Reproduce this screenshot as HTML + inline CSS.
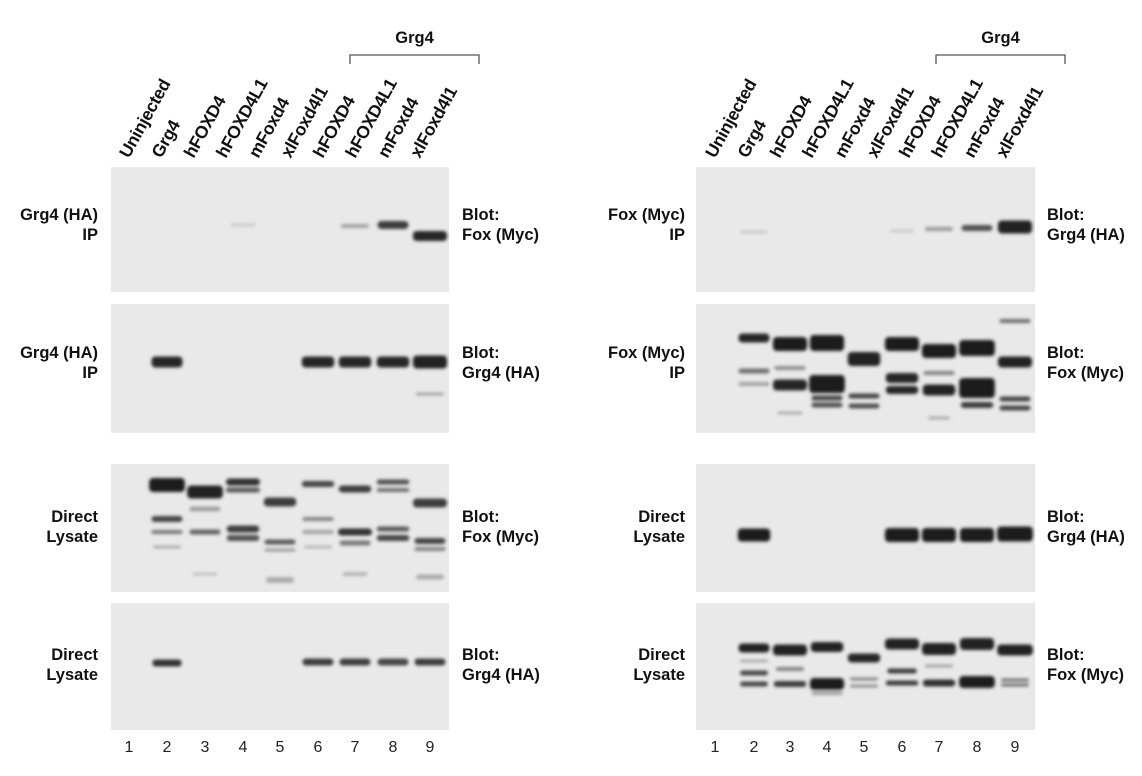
<!DOCTYPE html>
<html><head><meta charset="utf-8"><style>
body{margin:0;background:#fff;}
svg{display:block;font-family:"Liberation Sans",Arial,sans-serif;}
.b{font-weight:bold;font-size:16.5px;fill:#111;}
.h{font-weight:bold;font-size:17.5px;fill:#111;letter-spacing:-0.3px;}
.n{font-size:16px;fill:#222;}
</style></head><body>
<svg id="fig" width="1142" height="776" viewBox="0 0 1142 776">
<defs>
<filter id="blur" x="-20%" y="-100%" width="140%" height="300%"><feGaussianBlur stdDeviation="1.5"/></filter>
</defs>
<g id="root"></g>
</svg>
<script>
// lane labels
const laneNames = ["Uninjected","Grg4","hFOXD4","hFOXD4L1","mFoxd4","xlFoxd4l1","hFOXD4","hFOXD4L1","mFoxd4","xlFoxd4l1"];
const laneNumbers = ["1","2","3","4","5","6","7","8","9"];
const leftLaneX = [129,167,205,243,280,318,355,393,430];
const rightLaneX = [715,754,790,827,864,902,939,977,1015];
// band data: [lane, yOffsetFromPanelTop, thickness, intensity(0-1), widthScale]
const L1 = [[4,58,3,0.15,0.8],[7,59,4,0.35,0.9],[8,58,8,0.85,1],[9,69,10,0.95,1.1]];
const L2 = [[2,58,11,0.95,1],[6,58,11,0.95,1.05],[7,58,11,0.95,1.05],[8,58,11,0.95,1.05],[9,58,13,0.97,1.1],[9,90,3,0.35,0.9]];
const L3 = [[2,21,14,1,1.15],[2,55,6,0.8,1],[2,68,4,0.55,1],[2,83,3,0.3,0.9],
 [3,28,13,0.97,1.15],[3,45,5,0.35,1],[3,68,5,0.65,1],[3,110,3,0.2,0.8],
 [4,18,7,0.9,1.1],[4,26,5,0.7,1.1],[4,65,7,0.85,1.05],[4,74,6,0.75,1.05],
 [5,38,9,0.85,1.05],[5,78,5,0.7,1],[5,86,3,0.4,1],[5,116,6,0.3,0.9],
 [6,20,6,0.8,1.05],[6,55,4,0.5,1],[6,68,4,0.35,1],[6,83,3,0.25,0.9],
 [7,25,7,0.85,1.05],[7,68,7,0.9,1.1],[7,79,5,0.55,1],[7,110,4,0.25,0.8],
 [8,18,5,0.75,1.05],[8,26,4,0.6,1.05],[8,65,5,0.7,1.05],[8,74,6,0.8,1.05],
 [9,39,9,0.85,1.1],[9,77,6,0.8,1],[9,85,4,0.5,1],[9,113,5,0.3,0.9]];
const L4 = [[2,60,7,0.9,0.95],[6,59,7,0.85,1],[7,59,7,0.85,1],[8,59,7,0.8,1],[9,59,7,0.85,1]];
const R1 = [[2,65,3,0.15,0.9],[6,64,3,0.15,0.8],[7,62,4,0.4,0.9],[8,61,6,0.75,1],[9,60,13,0.97,1.1]];
const R2 = [[2,34,9,0.95,1],[2,67,5,0.6,1],[2,80,4,0.35,1],
 [3,40,14,1,1.1],[3,64,4,0.45,1],[3,81,11,0.95,1.1],[3,109,3,0.3,0.8],
 [4,39,16,1,1.1],[4,80,18,1,1.15],[4,94,5,0.8,1],[4,101,5,0.75,1],
 [5,55,14,0.97,1.05],[5,92,5,0.8,1],[5,102,5,0.75,1],
 [6,40,14,1,1.1],[6,74,10,0.95,1.05],[6,86,8,0.95,1.05],
 [7,47,14,1,1.1],[7,69,4,0.5,1],[7,86,11,0.97,1.05],[7,114,3,0.3,0.7],
 [8,44,16,1,1.15],[8,84,20,1,1.15],[8,101,6,0.85,1.05],
 [9,17,4,0.6,1],[9,58,11,0.97,1.1],[9,95,5,0.8,1],[9,104,5,0.8,1]];
const R3 = [[2,71,13,1,1.05],[6,71,14,1,1.1],[7,71,14,1,1.1],[8,71,14,1,1.1],[9,70,15,1,1.15]];
const R4 = [[2,45,9,0.97,1],[2,58,3,0.3,0.9],[2,70,5,0.8,0.9],[2,81,5,0.8,0.9],
 [3,47,11,0.97,1.1],[3,66,4,0.5,0.9],[3,81,6,0.85,1.05],
 [4,44,10,0.97,1.05],[4,81,12,1,1.1],[4,90,4,0.35,1],
 [5,55,9,0.95,1.05],[5,76,3,0.5,0.9],[5,83,3,0.45,0.9],
 [6,41,11,0.97,1.1],[6,68,5,0.85,0.95],[6,80,5,0.85,1.05],
 [7,46,12,0.97,1.1],[7,63,3,0.35,0.9],[7,80,7,0.9,1.05],
 [8,41,12,0.97,1.1],[8,79,12,1,1.15],
 [9,47,11,0.97,1.15],[9,77,3,0.6,0.9],[9,82,3,0.6,0.9]];

const NS="http://www.w3.org/2000/svg";
const root=document.getElementById('root');
function el(tag,attrs,parent){const e=document.createElementNS(NS,tag);for(const k in attrs)e.setAttribute(k,attrs[k]);(parent||root).appendChild(e);return e;}
function txt(x,y,s,cls,anchor,parent){const t=el('text',{x:x,y:y,class:cls,'text-anchor':anchor||'start'},parent);t.textContent=s;return t;}

function panel(x0,y0,w,h,bands,laneX,name){
  const g=el('g',{});
  
  
  el('rect',{x:x0,y:y0,width:w,height:h,fill:'#e9e9e9'},g);
  const bg=el('g',{filter:'url(#blur)'},g);
  bands.forEach(b=>{
    const cx=laneX[b[0]-1];const bw=31*b[4];
    const v=Math.round(233-(233-30)*b[3]);
    const r=el('rect',{x:cx-bw/2,y:y0+b[1]-b[2]/2,width:bw,height:b[2],rx:Math.min(b[2]/2,4),fill:`rgb(${v},${v},${v})`},bg);
    
    
  });
}
function side(x,y,lines,anchor,name){
  const g=el('g',{});
  
  
  lines.forEach((s,i)=>txt(x,y+i*20,s,'b',anchor,g));
}
function header(laneX,startX,bx0,bx1,side_){
  laneNames.forEach((s,i)=>{
    const x=startX+i*32.3;
    const t=el('text',{x:0,y:0,class:'h',transform:`translate(${x+5},159) rotate(-61)`});
    t.textContent=s;
    
    
  });
  const br=el('path',{d:`M${bx0} 64 V55 H${bx1} V64`,fill:'none',stroke:'#555','stroke-width':1.3});
  
  
  const gt=txt((bx0+bx1)/2,43,'Grg4','b','middle');
  
  
  laneNumbers.forEach((n,i)=>{
    const t=txt(laneX[i],752,n,'n','middle');
    
    
  });
}
panel(111,167,338,125,L1,leftLaneX,'left-ip-blot-fox');
panel(111,304,338,129,L2,leftLaneX,'left-ip-blot-grg4');
panel(111,464,338,128,L3,leftLaneX,'left-lysate-blot-fox');
panel(111,603,338,127,L4,leftLaneX,'left-lysate-blot-grg4');
panel(696,167,339,125,R1,rightLaneX,'right-ip-blot-grg4');
panel(696,304,339,129,R2,rightLaneX,'right-ip-blot-fox');
panel(696,464,339,128,R3,rightLaneX,'right-lysate-blot-grg4');
panel(696,603,339,127,R4,rightLaneX,'right-lysate-blot-fox');
header(leftLaneX,124,350,479,'left');
header(rightLaneX,710,936,1065,'right');
side(98,220,['Grg4 (HA)','IP'],'end','left-row1-label');
side(98,358,['Grg4 (HA)','IP'],'end','left-row2-label');
side(98,522,['Direct','Lysate'],'end','left-row3-label');
side(98,660,['Direct','Lysate'],'end','left-row4-label');
side(462,220,['Blot:','Fox (Myc)'],'start','left-row1-blot');
side(462,358,['Blot:','Grg4 (HA)'],'start','left-row2-blot');
side(462,522,['Blot:','Fox (Myc)'],'start','left-row3-blot');
side(462,660,['Blot:','Grg4 (HA)'],'start','left-row4-blot');
side(685,220,['Fox (Myc)','IP'],'end','right-row1-label');
side(685,358,['Fox (Myc)','IP'],'end','right-row2-label');
side(685,522,['Direct','Lysate'],'end','right-row3-label');
side(685,660,['Direct','Lysate'],'end','right-row4-label');
side(1047,220,['Blot:','Grg4 (HA)'],'start','right-row1-blot');
side(1047,358,['Blot:','Fox (Myc)'],'start','right-row2-blot');
side(1047,522,['Blot:','Grg4 (HA)'],'start','right-row3-blot');
side(1047,660,['Blot:','Fox (Myc)'],'start','right-row4-blot');
</script>
</body></html>
